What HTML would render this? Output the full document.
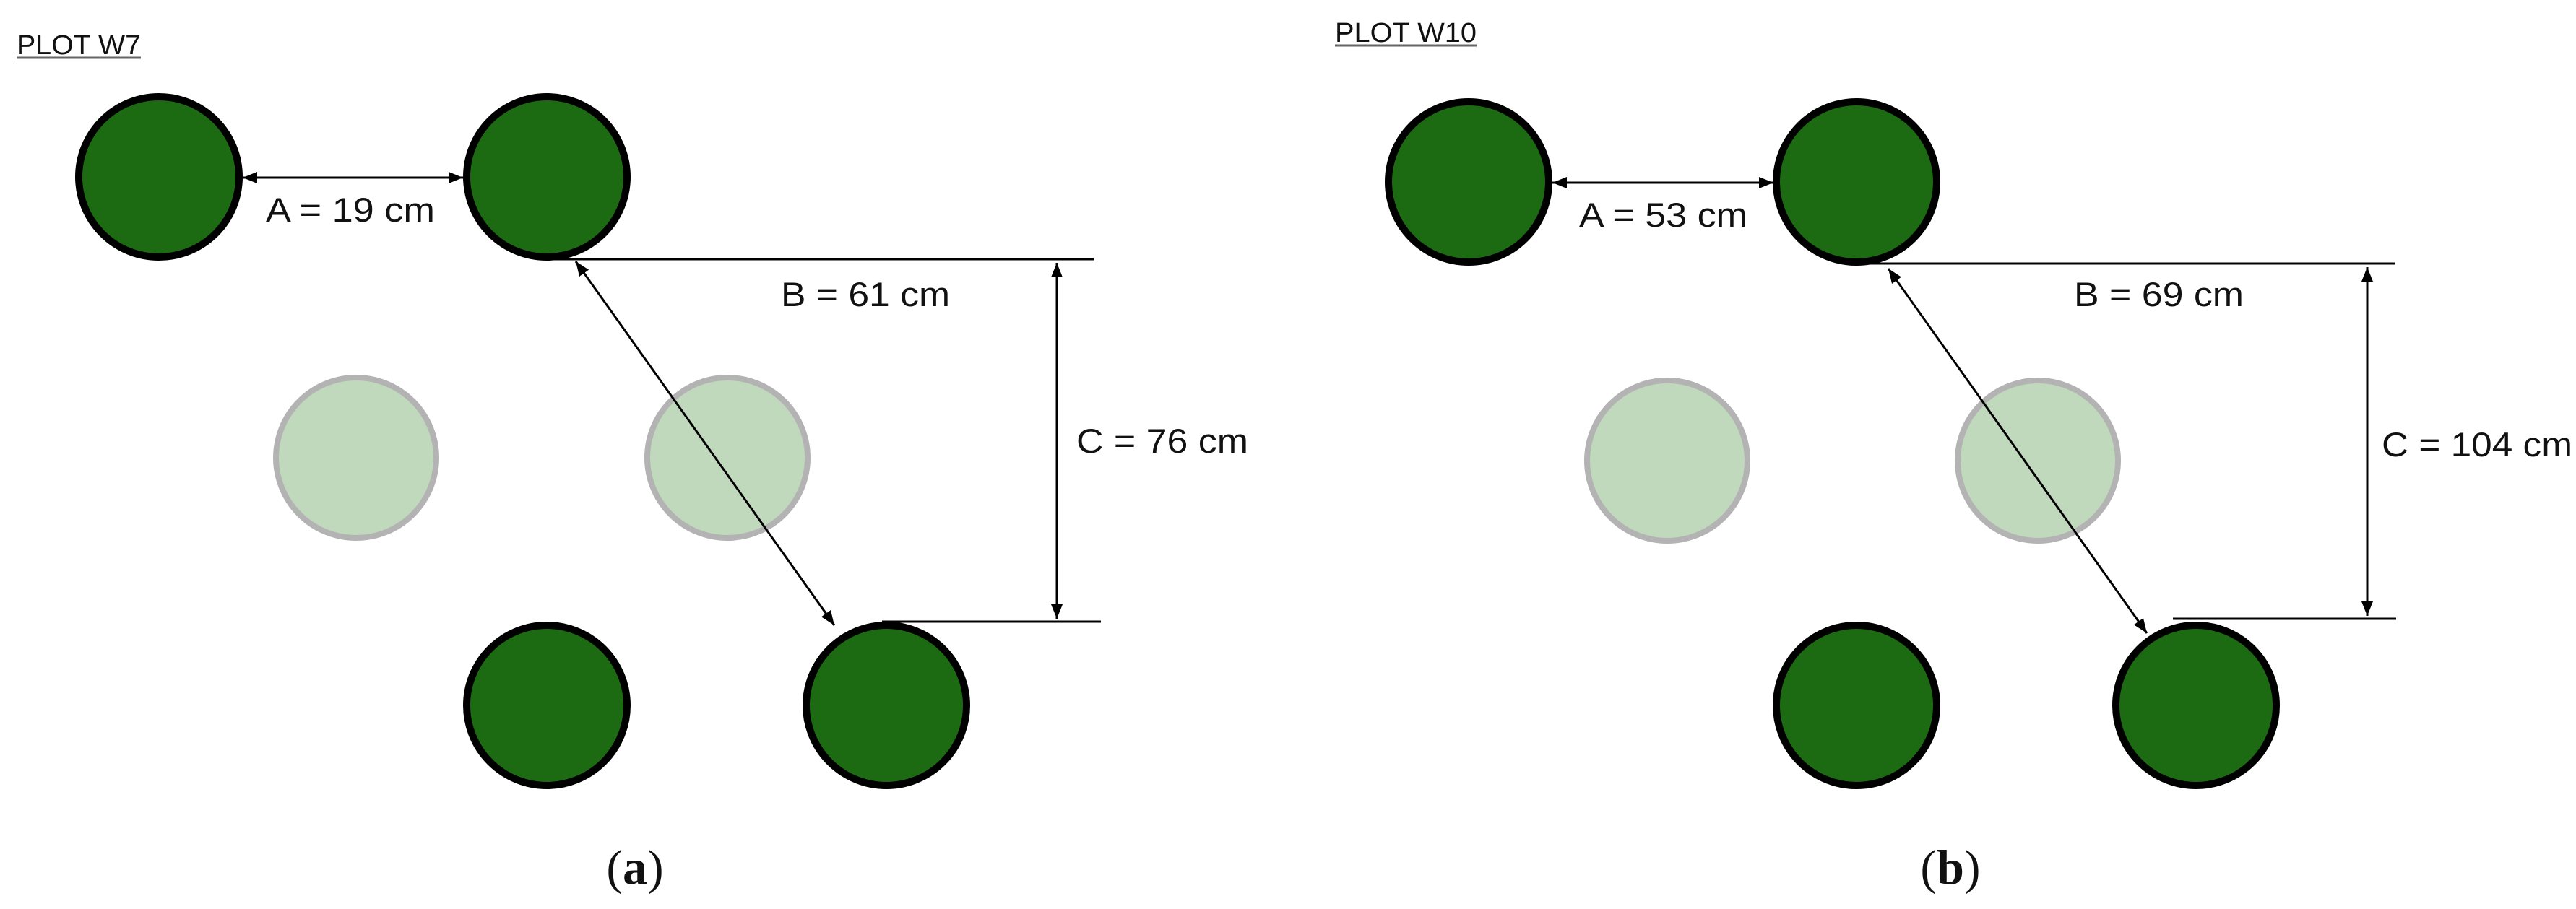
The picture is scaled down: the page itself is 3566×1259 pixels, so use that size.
<!DOCTYPE html>
<html><head><meta charset="utf-8"><style>
html,body{margin:0;padding:0;background:#fff;}
svg{display:block;}
</style></head><body>
<svg width="3566" height="1259" viewBox="0 0 3566 1259" xmlns="http://www.w3.org/2000/svg">
<defs>
<marker id="ah" viewBox="0 0 10 10" refX="10" refY="5" markerWidth="7" markerHeight="7" orient="auto-start-reverse" markerUnits="userSpaceOnUse">
</marker>
<marker id="a" viewBox="0 0 20 16" refX="20" refY="8" markerWidth="20" markerHeight="16" orient="auto-start-reverse" markerUnits="userSpaceOnUse">
<path d="M0,0 L20,8 L0,16 z" fill="#000"/>
</marker>
</defs>
<g font-family="Liberation Sans, Arial, sans-serif" fill="#111">
<!-- Panel A -->
<text x="23" y="75" font-size="38" textLength="172" lengthAdjust="spacingAndGlyphs">PLOT W7</text>
<line x1="23" y1="80" x2="195" y2="80" stroke="#666" stroke-width="3"/>
<g stroke="#000" stroke-width="10" fill="#1c6b12">
<circle cx="220" cy="245" r="111"/>
<circle cx="757" cy="245" r="111"/>
<circle cx="757" cy="977" r="111"/>
<circle cx="1227" cy="977" r="111"/>
</g>
<g stroke="#b3b3b3" stroke-width="8" fill="#c0d8bc">
<circle cx="493" cy="634" r="111"/>
<circle cx="1007" cy="634" r="111"/>
</g>
<g stroke="#000" stroke-width="3" fill="none">
<line x1="336" y1="246" x2="641" y2="246" marker-start="url(#a)" marker-end="url(#a)"/>
<line x1="757" y1="359" x2="1514" y2="359"/>
<line x1="1221" y1="861" x2="1524" y2="861"/>
<line x1="1463" y1="364" x2="1463" y2="857" marker-start="url(#a)" marker-end="url(#a)"/>
<line x1="797" y1="362" x2="1155" y2="866" marker-start="url(#a)" marker-end="url(#a)"/>
</g>
<text x="368" y="307" font-size="47" textLength="234" lengthAdjust="spacingAndGlyphs">A = 19 cm</text>
<text x="1081" y="424" font-size="47" textLength="234" lengthAdjust="spacingAndGlyphs">B = 61 cm</text>
<text x="1490" y="627" font-size="47" textLength="238" lengthAdjust="spacingAndGlyphs">C = 76 cm</text>
<text x="879" y="1224" font-size="68" font-family="Liberation Serif, serif" text-anchor="middle">(<tspan font-weight="bold">a</tspan>)</text>

<!-- Panel B -->
<text x="1848" y="58" font-size="38" textLength="196" lengthAdjust="spacingAndGlyphs">PLOT W10</text>
<line x1="1848" y1="63" x2="2044" y2="63" stroke="#666" stroke-width="3"/>
<g stroke="#000" stroke-width="10" fill="#1c6b12">
<circle cx="2033" cy="252" r="111"/>
<circle cx="2570" cy="252" r="111"/>
<circle cx="2570" cy="977" r="111"/>
<circle cx="3040" cy="977" r="111"/>
</g>
<g stroke="#b3b3b3" stroke-width="8" fill="#c0d8bc">
<circle cx="2308" cy="638" r="111"/>
<circle cx="2821" cy="638" r="111"/>
</g>
<g stroke="#000" stroke-width="3" fill="none">
<line x1="2149" y1="253" x2="2455" y2="253" marker-start="url(#a)" marker-end="url(#a)"/>
<line x1="2570" y1="365" x2="3315" y2="365"/>
<line x1="3008" y1="857" x2="3317" y2="857"/>
<line x1="3277" y1="370" x2="3277" y2="853" marker-start="url(#a)" marker-end="url(#a)"/>
<line x1="2614" y1="372" x2="2972" y2="877" marker-start="url(#a)" marker-end="url(#a)"/>
</g>
<text x="2186" y="314" font-size="47" textLength="233" lengthAdjust="spacingAndGlyphs">A = 53 cm</text>
<text x="2871" y="424" font-size="47" textLength="235" lengthAdjust="spacingAndGlyphs">B = 69 cm</text>
<text x="3297" y="632" font-size="47" textLength="264" lengthAdjust="spacingAndGlyphs">C = 104 cm</text>
<text x="2700" y="1224" font-size="68" font-family="Liberation Serif, serif" text-anchor="middle">(<tspan font-weight="bold">b</tspan>)</text>
</g>
</svg>
</body></html>
